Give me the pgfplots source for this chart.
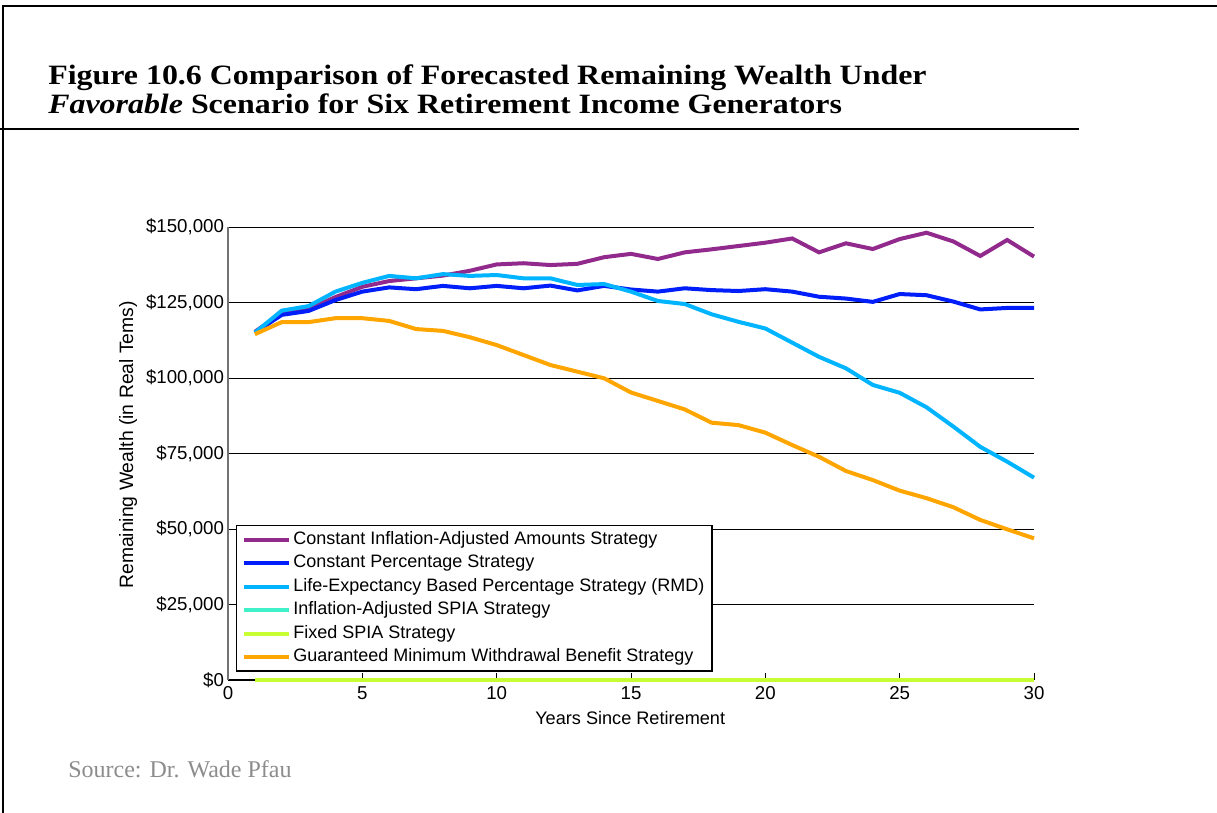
\documentclass[border=0pt]{standalone}
\usepackage{fontspec}
\setmainfont{Liberation Sans}
\newfontfamily\serifface{Liberation Serif}
\newfontfamily\titleface{Liberation Serif}[FakeStretch=1.14]
\usepackage{pgfplots}
\usepackage{pgfplotstable}
\pgfplotsset{compat=1.18}

\definecolor{cia}{RGB}{145,42,140}
\definecolor{cpct}{RGB}{0,30,250}
\definecolor{rmd}{RGB}{0,180,255}
\definecolor{ispia}{RGB}{64,240,200}
\definecolor{fspia}{RGB}{200,255,50}
\definecolor{gmwb}{RGB}{255,165,0}
\definecolor{srcgray}{RGB}{140,140,140}

\pgfplotstableread{
yr  cia     cp      rmd     ispia fspia gmwb
1   115300  115000  115000  0     0     114500
2   121500  120900  122300  0     0     118500
3   122800  122200  123800  0     0     118500
4   126800  125800  128600  0     0     119800
5   130200  128600  131500  0     0     119800
6   132100  130000  133800  0     0     118900
7   133000  129400  133000  0     0     116200
8   133900  130500  134400  0     0     115600
9   135500  129700  133800  0     0     113500
10  137600  130500  134100  0     0     110900
11  138000  129700  133000  0     0     107600
12  137400  130600  133000  0     0     104300
13  137800  129000  130800  0     0     102100
14  140000  130500  131100  0     0     99900
15  141100  129300  128600  0     0     95200
16  139400  128600  125500  0     0     92400
17  141600  129700  124500  0     0     89600
18  142600  129100  121100  0     0     85200
19  143700  128800  118600  0     0     84400
20  144800  129400  116400  0     0     81900
21  146200  128600  111700  0     0     77800
22  141600  126900  107000  0     0     73900
23  144600  126300  103200  0     0     69200
24  142700  125200  97700   0     0     66200
25  146000  127800  95100   0     0     62700
26  148100  127400  90300   0     0     60200
27  145200  125300  83900   0     0     57200
28  140400  122700  77200   0     0     53000
29  145700  123200  72300   0     0     49900
30  140200  123200  67000   0     0     46900
}\wealth

\begin{document}
\begin{tikzpicture}
\useasboundingbox (0,0) rectangle (912.75pt,609.75pt);
% page frame
\draw[black, line width=1.1pt] (2.25pt,0) -- (2.25pt,605.25pt) -- (912.75pt,605.25pt);
% title
\node[anchor=base west, inner sep=0pt] at (36pt,546pt)
  {\titleface\bfseries\fontsize{21}{25}\selectfont Figure 10.6 Comparison of Forecasted Remaining Wealth Under};
\node[anchor=base west, inner sep=0pt] at (36pt,524.25pt)
  {\titleface\bfseries\fontsize{21}{25}\selectfont \textit{Favorable} Scenario for Six Retirement Income Generators};
\draw[black, line width=1.9pt] (0,513pt) -- (809.25pt,513pt);
% source
\node[anchor=base west, inner sep=0pt, text=srcgray] at (51pt,26.25pt)
  {\serifface\fontsize{18}{21}\selectfont Source: Dr. Wade Pfau};

\begin{axis}[
  at={(171pt,99.75pt)}, anchor=south west,
  scale only axis, width=604.5pt, height=339.75pt,
  xmin=0, xmax=30, ymin=0, ymax=150000,
  axis x line*=bottom, axis y line*=left,
  xtick={0,5,...,30},
  ytick={0,25000,50000,75000,100000,125000,150000},
  yticklabels={{\$0},{\$25,000},{\$50,000},{\$75,000},{\$100,000},{\$125,000},{\$150,000}},
  scaled y ticks=false,
  ymajorgrids,
  grid style={black, line width=0.7pt},
  x axis line style={black, line width=0.8pt, -},
  y axis line style={black!55, line width=1.1pt, -},
  tick align=inside, major tick length=5.5pt,
  ytick style={draw=none},
  xtick style={black, line width=0.6pt},
  /pgf/number format/assume math mode=true,
  ticklabel style={font=\fontsize{14}{16}\selectfont},
  xticklabel style={yshift=-1.5pt},
  yticklabel style={xshift=0.5pt},
  xlabel={Years Since Retirement},
  ylabel={Remaining Wealth (in Real Tems)},
  xlabel style={font=\fontsize{13.6}{15}\selectfont, at={(axis description cs:0.499,-0.084)}, anchor=center},
  ylabel style={font=\fontsize{14.5}{16}\selectfont, at={(axis description cs:-0.124,0.519)}, anchor=center, rotate=0},
  legend style={at={(0.0099,0.342)}, anchor=north west, draw=black, line width=1pt,
    font=\fontsize{13.5}{15}\selectfont, inner xsep=4pt, inner ysep=2.5pt,
    row sep=1.6pt, nodes={inner sep=1.5pt, text height=10pt, text depth=3pt}},
  legend cell align=left,
  legend image code/.code={\draw[#1, line width=3pt] (0pt,0pt) -- (34pt,0pt);},
  every axis plot/.append style={line width=3pt, mark=none},
  clip=false,
]
\addplot[color=cia]   table[x=yr, y=cia]   {\wealth};
\addplot[color=cpct]  table[x=yr, y=cp]    {\wealth};
\addplot[color=rmd]   table[x=yr, y=rmd]   {\wealth};
\addplot[color=ispia] table[x=yr, y=ispia] {\wealth};
\addplot[color=fspia] table[x=yr, y=fspia] {\wealth};
\addplot[color=gmwb]  table[x=yr, y=gmwb]  {\wealth};
\legend{Constant Inflation-Adjusted Amounts Strategy,
  Constant Percentage Strategy,
  Life-Expectancy Based Percentage Strategy (RMD),
  Inflation-Adjusted SPIA Strategy,
  Fixed SPIA Strategy,
  Guaranteed Minimum Withdrawal Benefit Strategy}
\end{axis}
\end{tikzpicture}
\end{document}
